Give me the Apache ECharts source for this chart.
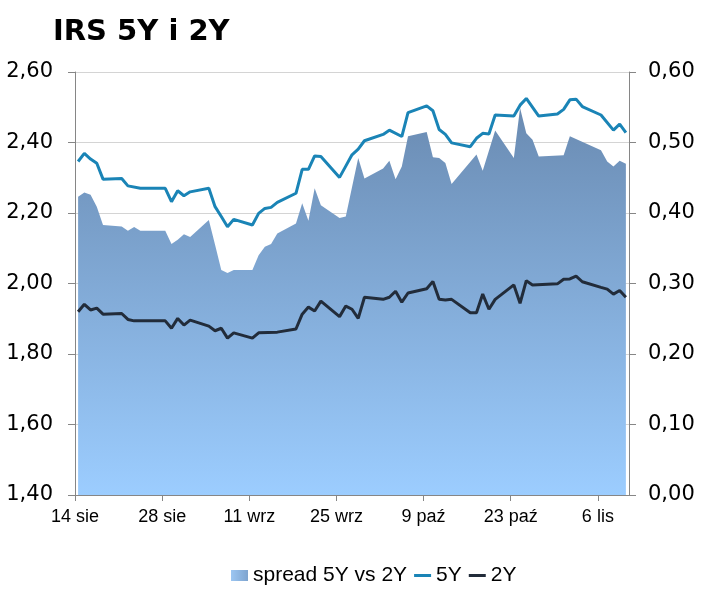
<!DOCTYPE html>
<html><head><meta charset="utf-8">
<script src="https://cdn.jsdelivr.net/npm/echarts@6/dist/echarts.min.js"></script>
<style>html,body{margin:0;padding:0;background:#fff}#c{width:703px;height:592px}</style>
</head><body><div id="c"></div>
<script>
// Data (2017, days)
const startDate = '08-14';
const xTickLabels = ['14 sie','28 sie','11 wrz','25 wrz','9 paź','23 paź','6 lis'];

const dates5Y = ['08-14','08-15','08-16','08-17','08-18','08-21','08-22','08-24','08-28','08-29','08-30','08-31','09-01',
  '09-04','09-05','09-06','09-07','09-08','09-11','09-12','09-13','09-14','09-15','09-18','09-19','09-20','09-21','09-22',
  '09-25','09-26','09-27','09-28','09-29','10-02','10-03','10-05','10-06','10-09','10-10','10-11','10-12','10-13',
  '10-16','10-17','10-18','10-19','10-20','10-23','10-24','10-25','10-27','10-30','10-31','11-01','11-02','11-03',
  '11-06','11-08','11-09','11-10'];
const values5Y = [2.346,2.369,2.353,2.341,2.296,2.298,2.277,2.270,2.270,2.232,2.263,2.249,2.260,
  2.270,2.218,2.190,2.161,2.182,2.166,2.199,2.213,2.216,2.230,2.256,2.324,2.324,2.362,2.360,
  2.301,2.333,2.365,2.381,2.405,2.423,2.435,2.417,2.485,2.504,2.490,2.437,2.423,2.399,
  2.388,2.412,2.426,2.424,2.478,2.475,2.506,2.525,2.475,2.481,2.494,2.521,2.523,2.502,
  2.478,2.435,2.452,2.428];

const dates2Y = ['08-14','08-15','08-16','08-17','08-18','08-21','08-22','08-23','08-28','08-29','08-30','08-31','09-01',
  '09-04','09-05','09-06','09-07','09-08','09-11','09-12','09-15','09-18','09-19','09-20','09-21','09-22',
  '09-25','09-26','09-27','09-28','09-29','10-02','10-03','10-04','10-05','10-06','10-09','10-10','10-11','10-12','10-13',
  '10-16','10-17','10-18','10-19','10-20','10-23','10-24','10-25','10-26','10-30','10-31','11-01','11-02','11-03',
  '11-06','11-07','11-08','11-09','11-10'];
const values2Y = [1.920,1.941,1.925,1.930,1.913,1.915,1.898,1.894,1.894,1.873,1.901,1.882,1.896,
  1.879,1.866,1.873,1.845,1.860,1.845,1.860,1.862,1.871,1.913,1.933,1.922,1.950,
  1.906,1.936,1.927,1.901,1.961,1.955,1.961,1.978,1.947,1.973,1.985,2.006,1.955,1.953,1.955,
  1.917,1.917,1.970,1.927,1.955,1.996,1.944,2.008,1.996,1.999,2.012,2.013,2.021,2.005,
  1.989,1.984,1.970,1.980,1.961];

const datesSpread = ['08-14','08-15','08-16','08-17','08-18','08-21','08-22','08-23','08-24','08-28','08-29','08-30','08-31','09-01',
  '09-04','09-05','09-06','09-07','09-08','09-11','09-12','09-13','09-14','09-15','09-18','09-19','09-20','09-21','09-22',
  '09-25','09-26','09-28','09-29','10-02','10-03','10-04','10-05','10-06','10-09','10-10','10-11','10-12','10-13',
  '10-17','10-18','10-20','10-23','10-24','10-25','10-26','10-27','10-31','11-01',
  '11-06','11-07','11-08','11-09','11-10'];
const valuesSpread = [0.423,0.429,0.426,0.409,0.383,0.381,0.375,0.380,0.375,0.375,0.356,0.362,0.370,0.366,
  0.390,0.355,0.319,0.315,0.319,0.319,0.340,0.352,0.356,0.371,0.385,0.414,0.389,0.435,0.411,
  0.393,0.395,0.478,0.449,0.463,0.474,0.448,0.466,0.509,0.515,0.479,0.478,0.471,0.441,
  0.483,0.460,0.517,0.478,0.549,0.513,0.504,0.480,0.482,0.509,
  0.489,0.473,0.466,0.474,0.470];

const seriesNames = ['spread 5Y vs 2Y','5Y','2Y'];

function dayOf(s){
  const t = Date.UTC(2017, +s.slice(0,2)-1, +s.slice(3,5));
  const t0 = Date.UTC(2017, +startDate.slice(0,2)-1, +startDate.slice(3,5));
  return (t - t0)/86400000;
}
function pairs(dates, vals){ return dates.map((d,i)=>[dayOf(d)+0.5, vals[i]]); }
const comma = (v)=> v.toFixed(2).replace('.', ',');
const FONT = 'DejaVu Sans, Verdana, sans-serif';
const FONT2 = 'Liberation Sans, Arial, sans-serif';
const areaGrad = new echarts.graphic.LinearGradient(0,0,0,1,[
  {offset:0,color:'#6a8bb2'},{offset:1,color:'#9ccdff'}]);
const legendGrad = new echarts.graphic.LinearGradient(0,0,1,0,[
  {offset:0,color:'#9cc6f2'},{offset:1,color:'#7ea4cf'}]);
const lineIcon = 'path://M0,0H20V3.5H0Z';

const chart = echarts.init(document.getElementById('c'));
chart.setOption({
  animation:false,
  title:{text:'IRS 5Y i 2Y', left:48, top:13,
    textStyle:{fontFamily:FONT, fontSize:29, fontWeight:'bold', color:'#000'}},
  grid:{left:75, right:74, top:72, bottom:97},
  legend:{left:226, top:560, itemWidth:17, itemHeight:11, itemGap:7,
    textStyle:{fontFamily:FONT2, fontSize:21, color:'#000'},
    data:[{name:seriesNames[0], icon:'rect', itemStyle:{color:legendGrad}},
          {name:seriesNames[1], icon:lineIcon},
          {name:seriesNames[2], icon:lineIcon}]},
  xAxis:{type:'value', min:0, max:89, interval:14,
    axisLine:{show:true, onZero:false, lineStyle:{color:'#868686', width:1}},
    axisTick:{show:true, length:6, lineStyle:{color:'#868686'}},
    splitLine:{show:false},
    axisLabel:{margin:13, fontFamily:FONT2, fontSize:18, color:'#000', showMaxLabel:false,
      formatter:(v)=>{ const k=Math.round(v/14); return (Math.abs(v-k*14)<1e-6 && k<xTickLabels.length)? xTickLabels[k] : ''; }}},
  yAxis:[
    {type:'value', min:1.4, max:2.6, interval:0.2, position:'left',
      axisLine:{show:true, lineStyle:{color:'#868686'}},
      axisTick:{show:true, length:7, lineStyle:{color:'#868686'}},
      splitLine:{show:true, lineStyle:{color:'#d4d4d4', width:1}},
      axisLabel:{margin:22, fontFamily:FONT, fontSize:21, color:'#000', formatter:comma}},
    {type:'value', min:0, max:0.6, interval:0.1, position:'right',
      axisLine:{show:true, lineStyle:{color:'#868686'}},
      axisTick:{show:true, length:7, lineStyle:{color:'#868686'}},
      splitLine:{show:false},
      axisLabel:{margin:19, fontFamily:FONT, fontSize:21, color:'#000', formatter:comma}}
  ],
  series:[
    {name:seriesNames[0], type:'line', yAxisIndex:1, data:pairs(datesSpread, valuesSpread),
      symbol:'none', lineStyle:{width:0}, itemStyle:{color:'#7ea4cf'},
      areaStyle:{color:areaGrad, opacity:1}, z:1},
    {name:seriesNames[1], type:'line', yAxisIndex:0, data:pairs(dates5Y, values5Y),
      symbol:'none', lineStyle:{width:3, color:'#1a84b6'}, itemStyle:{color:'#1a84b6'}, z:3},
    {name:seriesNames[2], type:'line', yAxisIndex:0, data:pairs(dates2Y, values2Y),
      symbol:'none', lineStyle:{width:3, color:'#222c3a'}, itemStyle:{color:'#222c3a'}, z:4}
  ]
});
</script></body></html>
